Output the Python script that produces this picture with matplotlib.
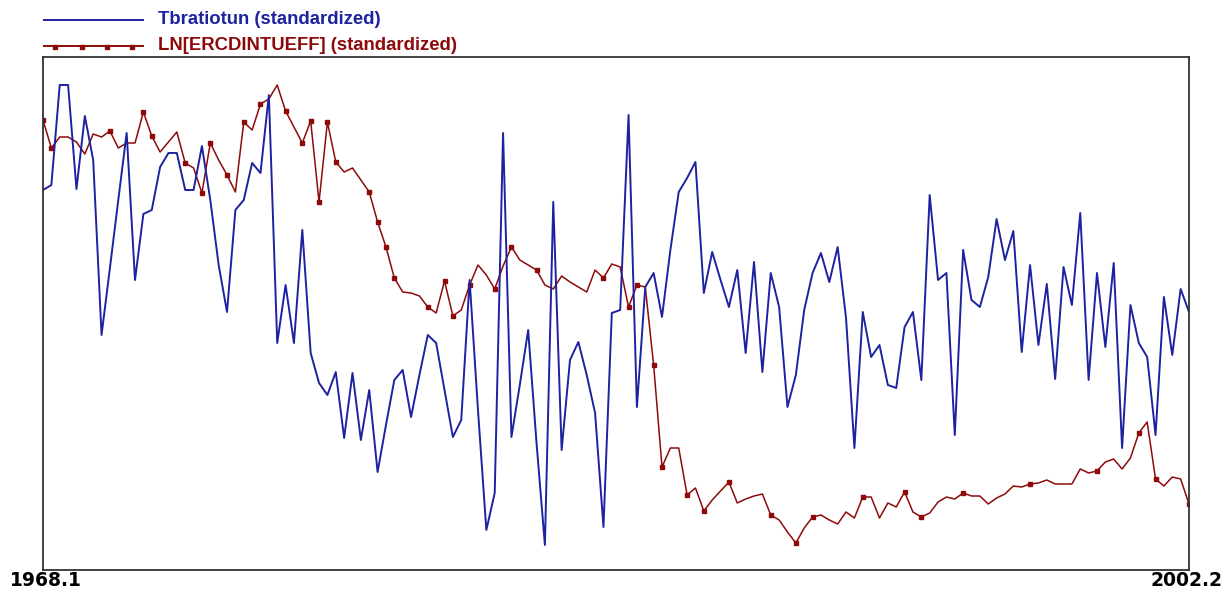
import matplotlib.pyplot as plt
from matplotlib.lines import Line2D

# quarterly, 1968.1 .. 2002.2
start_label = "1968.1"
end_label = "2002.2"

tbratio = [1.10, 1.15, 2.15, 2.15, 1.11, 1.84, 1.40, -0.35, 0.32, 1.00,
           1.67, 0.20, 0.86, 0.90, 1.33, 1.47, 1.47, 1.10, 1.10, 1.54,
           1.00, 0.35, -0.12, 0.90, 1.00, 1.37, 1.27, 2.05, -0.43, 0.15,
           -0.43, 0.70, -0.53, -0.83, -0.95, -0.72, -1.38, -0.73, -1.40, -0.90,
           -1.72, -1.25, -0.80, -0.70, -1.17, -0.75, -0.35, -0.43, -0.90, -1.37,
           -1.20, 0.20, -1.10, -2.30, -1.93, 1.67, -1.37, -0.85, -0.30, -1.43,
           -2.45, 0.98, -1.50, -0.60, -0.42, -0.75, -1.13, -2.27, -0.13, -0.10,
           1.85, -1.07, 0.13, 0.27, -0.17, 0.50, 1.08, 1.22, 1.38, 0.07,
           0.48, 0.20, -0.07, 0.30, -0.53, 0.38, -0.72, 0.27, -0.07, -1.07,
           -0.75, -0.10, 0.27, 0.47, 0.18, 0.53, -0.18, -1.48, -0.12, -0.57,
           -0.45, -0.85, -0.88, -0.27, -0.12, -0.80, 1.05, 0.20, 0.27, -1.35,
           0.50, 0.00, -0.07, 0.23, 0.81, 0.40, 0.69, -0.52, 0.35, -0.45,
           0.16, -0.79, 0.33, -0.05, 0.87, -0.80, 0.27, -0.47, 0.37, -1.48,
           -0.05, -0.43, -0.57, -1.35, 0.03, -0.55, 0.11, -0.12]

ln_ercd = [1.80, 1.52, 1.63, 1.63, 1.58, 1.46, 1.66, 1.63, 1.69, 1.52,
           1.57, 1.57, 1.88, 1.64, 1.48, 1.58, 1.68, 1.37, 1.32, 1.07,
           1.57, 1.40, 1.25, 1.08, 1.78, 1.70, 1.96, 2.01, 2.15, 1.89,
           1.73, 1.57, 1.79, 0.98, 1.78, 1.38, 1.28, 1.32, 1.20, 1.08,
           0.78, 0.53, 0.22, 0.08, 0.07, 0.04, -0.07, -0.13, 0.19, -0.16,
           -0.10, 0.15, 0.35, 0.25, 0.11, 0.34, 0.53, 0.40, 0.35, 0.30,
           0.15, 0.11, 0.24, 0.18, 0.13, 0.08, 0.30, 0.22, 0.36, 0.33,
           -0.07, 0.15, 0.13, -0.65, -1.67, -1.48, -1.48, -1.95, -1.88, -2.11,
           -2.00, -1.91, -1.82, -2.03, -1.99, -1.96, -1.94, -2.15, -2.20, -2.32,
           -2.43, -2.28, -2.17, -2.15, -2.20, -2.24, -2.12, -2.18, -1.97, -1.97,
           -2.18, -2.03, -2.07, -1.92, -2.12, -2.17, -2.13, -2.02, -1.97, -1.99,
           -1.93, -1.96, -1.96, -2.04, -1.98, -1.94, -1.86, -1.87, -1.84, -1.83,
           -1.80, -1.84, -1.84, -1.84, -1.69, -1.73, -1.71, -1.62, -1.59, -1.69,
           -1.58, -1.33, -1.22, -1.79, -1.86, -1.77, -1.79, -2.04]

marked = [0, 1, 8, 12, 13, 17, 19, 20, 22, 24, 26, 29, 31, 32, 33, 34, 35, 39,
          40, 41, 42, 46, 48, 49, 51, 54, 56, 59, 67, 70, 71, 73, 74, 77, 79,
          82, 87, 90, 92, 98, 103, 105, 110, 118, 126, 131, 133, 137]

blue = "#1c22a0"
red = "#8e0a0a"

fig = plt.figure(figsize=(12.25, 5.93), dpi=100)
ax = fig.add_axes([43 / 1225, 23 / 593, 1146 / 1225, 513 / 593])

x = list(range(len(tbratio)))
ax.plot(x, ln_ercd, color=red, lw=1.1, marker="s", ms=3.5,
        markevery=marked, mec=red, mfc=red)
ax.plot(x, tbratio, color=blue, lw=1.4)

ax.set_xlim(0, len(x) - 1)
ax.set_ylim(-2.70, 2.43)
ax.set_xticks([])
ax.set_yticks([])
for s in ax.spines.values():
    s.set_color("#333333")
    s.set_linewidth(1.3)

# legend drawn by hand, above the box
fig.add_artist(Line2D([44 / 1225, 143 / 1225], [1 - 20 / 593, 1 - 20 / 593],
                      color=blue, lw=1.4))
fig.add_artist(Line2D([44 / 1225, 143 / 1225], [1 - 46 / 593, 1 - 46 / 593],
                      color=red, lw=1.4))
fig.add_artist(Line2D([55 / 1225, 82 / 1225, 107 / 1225, 132 / 1225],
                      [1 - 47 / 593] * 4, color=red, lw=0, marker="s", ms=3.5))
fig.text(158 / 1225, 1 - 20 / 593, "Tbratiotun (standardized)", color=blue,
         fontsize=13.3, fontweight="bold", va="center",
         family=["Liberation Sans", "DejaVu Sans"])
fig.text(158 / 1225, 1 - 45 / 593, "LN[ERCDINTUEFF] (standardized)", color=red,
         fontsize=13.3, fontweight="bold", va="center",
         family=["Liberation Sans", "DejaVu Sans"])

fig.text(10 / 1225, 1 - 580 / 593, start_label, ha="left", va="center",
         fontsize=13.5, fontweight="bold", family="DejaVu Sans")
fig.text(1222 / 1225, 1 - 580 / 593, end_label, ha="right", va="center",
         fontsize=13.5, fontweight="bold", family="DejaVu Sans")

fig.savefig("out.png", dpi=100)
